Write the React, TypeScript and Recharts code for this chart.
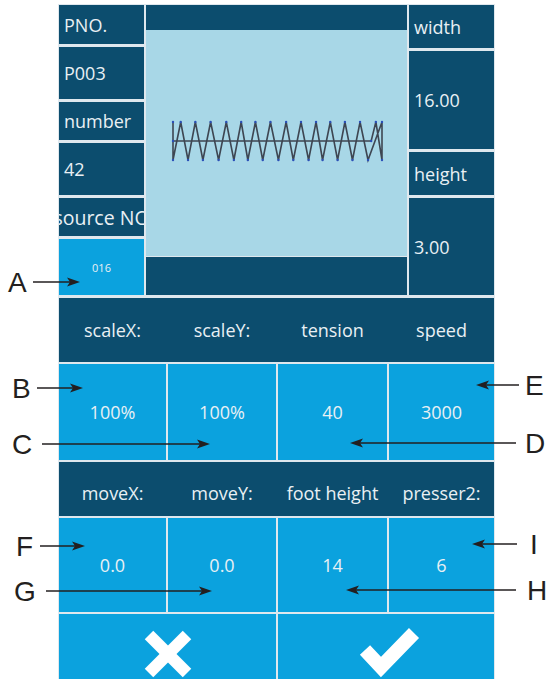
import React from 'react';
import { LineChart, Line, XAxis, YAxis } from 'recharts';

// stitch path of pattern P003 in mm: x across 16.00 width, y across 3.00 height
const stitchX = [0, 15.17, 15.53, 16, 16, 14.93, 14.32, 13.74, 13.16, 12.6, 12.04, 11.45, 10.95, 10.38, 9.8, 9.21, 8.66, 8.07, 7.46, 6.87, 6.31, 5.73, 5.22, 4.66, 4.08, 3.49, 2.88, 2.29, 1.71, 1.15, 0.59, 0, 0];
const stitchY = [0, 0, 1.5, -1.5, 1.5, -1.5, 1.5, -1.5, 1.5, -1.5, 1.5, -1.5, 1.5, -1.5, 1.5, -1.5, 1.5, -1.5, 1.5, -1.5, 1.5, -1.5, 1.5, -1.5, 1.5, -1.5, 1.5, -1.5, 1.5, -1.5, 1.5, -1.5, 1.5];

const leftLabels = ['PNO.', 'P003', 'number', '42', 'source NO', '016'];
const rightLabels = ['width', '16.00', 'height', '3.00'];
const row1Labels = ['scaleX:', 'scaleY:', 'tension', 'speed'];
const row1Values = ['100%', '100%', '40', '3000'];
const row2Labels = ['moveX:', 'moveY:', 'foot height', 'presser2:'];
const row2Values = ['0.0', '0.0', '14', '6'];
const calloutsLeft = ['A', 'B', 'C', 'F', 'G'];
const calloutsRight = ['E', 'D', 'I', 'H'];

const DARK = '#0c4d6e';
const BRIGHT = '#0ba2de';
const LIGHT = '#a8d7e7';
const TEXT = '#e9f0f4';
const FONT = '"Open Sans", "DejaVu Sans", sans-serif';

const stitchData = stitchX.map((x, i) => ({ x, y: stitchY[i] }));

type CellProps = {
    x: number; y: number; w: number; h: number; bg: string;
    text?: string; align?: 'left' | 'center'; size?: number; padTop?: number;
};

function Cell({ x, y, w, h, bg, text, align = 'left', size = 18, padTop = 0 }: CellProps) {
    return (
        <div
            style={{
                position: 'absolute', left: x, top: y, width: w, height: h, background: bg,
                display: 'flex', alignItems: 'center',
                justifyContent: align === 'center' ? 'center' : 'flex-start',
                paddingLeft: align === 'center' ? 0 : 5, paddingTop: padTop, boxSizing: 'border-box',
                overflow: 'hidden', whiteSpace: 'nowrap', color: TEXT, fontFamily: FONT, fontSize: size,
                fontWeight: 500,
            }}
        >
            {text}
        </div>
    );
}

const colX = [59, 168, 278, 389];
const colW = [107, 108, 109, 105];

const leftArrows = [
    { y: 282, x1: 33, x2: 80, lx: 8 },
    { y: 388, x1: 37, x2: 83, lx: 12 },
    { y: 444, x1: 42, x2: 210, lx: 12 },
    { y: 546, x1: 40, x2: 85, lx: 16 },
    { y: 591, x1: 46, x2: 212, lx: 14 },
];
const rightArrows = [
    { y: 385, x1: 519, x2: 476, lx: 525 },
    { y: 443, x1: 516, x2: 350, lx: 525 },
    { y: 544, x1: 517, x2: 472, lx: 530 },
    { y: 590, x1: 516, x2: 346, lx: 527 },
];

function Arrow({ x1, x2, y }: { x1: number; x2: number; y: number }) {
    const d = x2 > x1 ? 1 : -1;
    return (
        <g>
            <line x1={x1} y1={y} x2={x2 - d * 8} y2={y} stroke="#231f20" strokeWidth={1.6} />
            <polygon
                points={`${x2},${y} ${x2 - d * 13},${y - 4.5} ${x2 - d * 10},${y} ${x2 - d * 13},${y + 4.5}`}
                fill="#231f20"
            />
        </g>
    );
}

export default function App() {
    return (
        <div style={{ position: 'absolute', left: 0, top: 0, width: 550, height: 679, background: '#fff', overflow: 'hidden' }}>
            {/* panel frame */}
            <div style={{ position: 'absolute', left: 58, top: 4, width: 437, height: 690, background: '#dfe8ee' }} />

            {/* left column */}
            <Cell x={59} y={5} w={85} h={39} bg={DARK} text={leftLabels[0]} />
            <Cell x={59} y={47} w={85} h={52} bg={DARK} text={leftLabels[1]} />
            <Cell x={59} y={102} w={85} h={38} bg={DARK} text={leftLabels[2]} />
            <Cell x={59} y={143} w={85} h={52} bg={DARK} text={leftLabels[3]} />
            <Cell x={59} y={198} w={85} h={38} bg={DARK} text={leftLabels[4]} align="center" size={19.5} />
            <Cell x={59} y={239} w={85} h={56} bg={BRIGHT} text={leftLabels[5]} align="center" size={11} />

            {/* preview */}
            <Cell x={146} y={5} w={261} h={25} bg={DARK} />
            <div style={{ position: 'absolute', left: 146, top: 30, width: 261, height: 226, background: LIGHT }}>
                <LineChart width={260} height={226} data={stitchData} margin={{ top: 92, right: 24, bottom: 96, left: 27 }}>
                    <XAxis dataKey="x" type="number" domain={[0, 16]} hide />
                    <YAxis type="number" domain={[-1.5, 1.5]} hide width={0} />
                    <Line
                        type="linear"
                        dataKey="y"
                        stroke="#3e4652"
                        strokeWidth={1.6}
                        dot={{ r: 1.2, fill: '#2a4fb8', stroke: 'none' }}
                        isAnimationActive={false}
                    />
                </LineChart>
            </div>
            <Cell x={146} y={257} w={261} h={38} bg={DARK} />

            {/* right column */}
            <Cell x={409} y={5} w={85} h={43} bg={DARK} text={rightLabels[0]} />
            <Cell x={409} y={51} w={85} h={98} bg={DARK} text={rightLabels[1]} />
            <Cell x={409} y={152} w={85} h={43} bg={DARK} text={rightLabels[2]} />
            <Cell x={409} y={198} w={85} h={97} bg={DARK} text={rightLabels[3]} />

            {/* parameter rows */}
            <Cell x={59} y={298} w={435} h={64} bg={DARK} />
            {row1Labels.map((t, i) => (
                <Cell key={'l1' + i} x={colX[i]} y={298} w={colW[i]} h={64} bg="transparent" text={t} align="center" />
            ))}
            {row1Values.map((t, i) => (
                <Cell key={'v1' + i} x={colX[i]} y={364} w={colW[i]} h={96} bg={BRIGHT} text={t} align="center" />
            ))}
            <Cell x={59} y={462} w={435} h={54} bg={DARK} />
            {row2Labels.map((t, i) => (
                <Cell key={'l2' + i} x={colX[i]} y={462} w={colW[i]} h={54} bg="transparent" text={t} align="center" padTop={8} />
            ))}
            {row2Values.map((t, i) => (
                <Cell key={'v2' + i} x={colX[i]} y={518} w={colW[i]} h={94} bg={BRIGHT} text={t} align="center" />
            ))}

            {/* cancel / confirm */}
            <Cell x={59} y={614} w={217} h={80} bg={BRIGHT} />
            <Cell x={278} y={614} w={216} h={80} bg={BRIGHT} />
            <svg width={550} height={679} style={{ position: 'absolute', left: 0, top: 0 }}>
                <g stroke="#fff" strokeWidth={12}>
                    <line x1={149} y1={635} x2={187} y2={673} />
                    <line x1={187} y1={635} x2={149} y2={673} />
                </g>
                <polyline points="365,650 381,667 414,633" fill="none" stroke="#fff" strokeWidth={14} />

                {leftArrows.map((a, i) => (
                    <g key={'la' + i}>
                        <text x={a.lx} y={a.y + 10} fontSize={28} fontFamily='"Liberation Sans", Arial, sans-serif' fill="#231f20">
                            {calloutsLeft[i]}
                        </text>
                        <Arrow x1={a.x1} x2={a.x2} y={a.y} />
                    </g>
                ))}
                {rightArrows.map((a, i) => (
                    <g key={'ra' + i}>
                        <text x={a.lx} y={a.y + 10} fontSize={28} fontFamily='"Liberation Sans", Arial, sans-serif' fill="#231f20">
                            {calloutsRight[i]}
                        </text>
                        <Arrow x1={a.x1} x2={a.x2} y={a.y} />
                    </g>
                ))}
            </svg>
        </div>
    );
}
